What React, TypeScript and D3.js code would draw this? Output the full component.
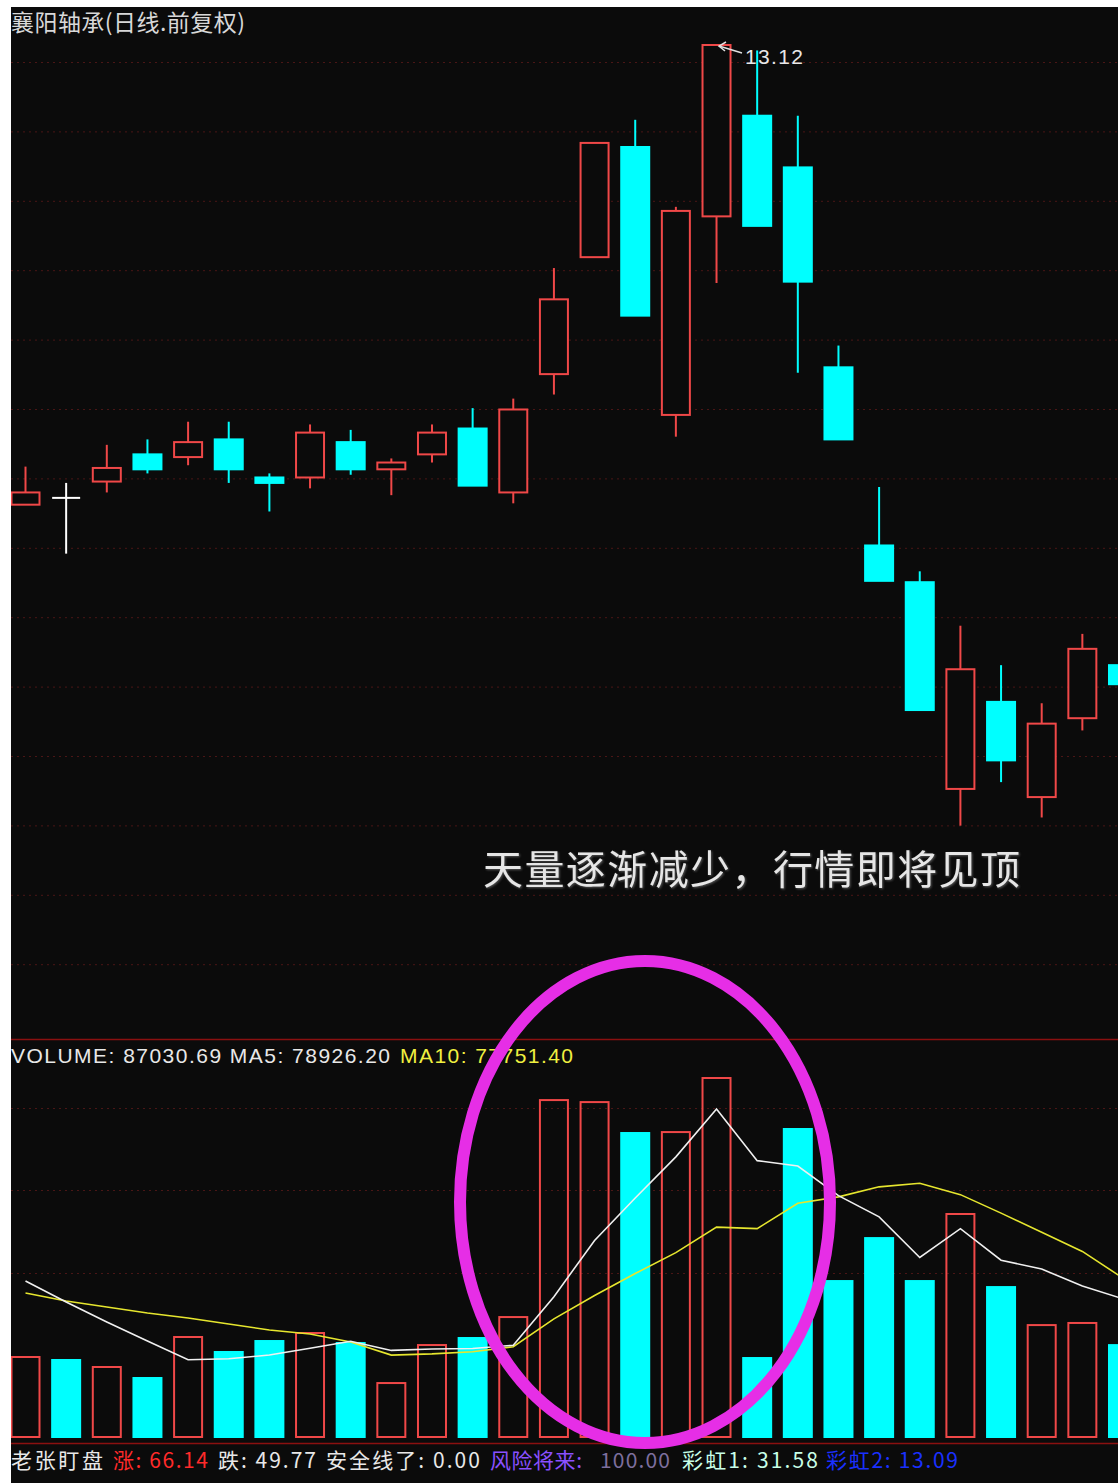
import React from 'react';
import * as d3 from 'd3';

// ---- data ----
const opens = [9.74, 9.79, 9.91, 10.11, 10.09, 10.22, 9.94, 9.94, 10.2, 10.0, 10.11, 10.3, 9.83, 10.7, 11.56, 12.37, 10.4, 11.86, 12.6, 12.22, 10.75, 9.44, 9.17, 7.65, 8.29, 7.59, 8.17, 8.56];
const closes = [9.83, 9.79, 10.01, 10.0, 10.2, 10.0, 9.9, 10.27, 10.0, 10.05, 10.27, 9.88, 10.44, 11.25, 12.4, 11.13, 11.9, 13.12, 11.79, 11.38, 10.22, 9.18, 8.23, 8.53, 7.86, 8.13, 8.68, 8.42];
const highs = [10.02, 9.9, 10.18, 10.22, 10.35, 10.35, 9.97, 10.33, 10.29, 10.08, 10.33, 10.45, 10.52, 11.48, 12.4, 12.57, 11.93, 13.12, 13.08, 12.6, 10.91, 9.87, 9.25, 8.85, 8.56, 8.28, 8.79, 8.56];
const lows = [9.74, 9.38, 9.83, 9.97, 10.03, 9.9, 9.69, 9.86, 9.96, 9.81, 10.05, 9.88, 9.75, 10.55, 11.56, 11.13, 10.24, 11.37, 11.79, 10.71, 10.22, 9.18, 8.23, 7.38, 7.7, 7.44, 8.08, 8.42];
const volumes = [75760, 72920, 66290, 55870, 94700, 80500, 90900, 98500, 89000, 51100, 87100, 93750, 113600, 319100, 317200, 287900, 288800, 340000, 74800, 291700, 147700, 188400, 147700, 211200, 142000, 106000, 108000, 87030.69];
const ma5 = [147700, 127850, 108900, 90900, 73108, 74056, 77652, 84094, 90720, 82000, 83320, 83890, 86910, 132930, 186150, 226310, 265320, 310600, 261740, 256640, 228600, 208520, 170060, 197340, 167400, 159060, 142980, 130846];
const ma10 = [136370, 128790, 123110, 117430, 112690, 107010, 101330, 97540, 89970, 77554, 78688, 80771, 85502, 111825, 134075, 154815, 174605, 198755, 197335, 221395, 227455, 236920, 240330, 229540, 212020, 193830, 175750, 150453];
const highLabel = '13.12';
const titleText = '襄阳轴承(日线.前复权)';
const noteText = '天量逐渐减少，行情即将见顶';
const volHeader = { volume: '87030.69', ma5: '78926.20', ma10: '77751.40' };
const footer = [
  { label: '老张盯盘', color: '#e8e8e8', x: 11, w: 92 },
  { label: '涨: 66.14', color: '#ff2a2a', x: 113, w: 95 },
  { label: '跌: 49.77', color: '#e8e8e8', x: 218, w: 98 },
  { label: '安全线了: 0.00', color: '#e8e8e8', x: 326, w: 154 },
  { label: '风险将来:', color: '#8a50ff', x: 490, w: 92 },
  { label: '100.00', color: '#7d6f9e', x: 600, w: 70 },
  { label: '彩虹1: 31.58', color: '#c8ffe8', x: 682, w: 136 },
  { label: '彩虹2: 13.09', color: '#1a30ff', x: 826, w: 132 },
];

const W = 1118;
const H = 1483;
const RED = '#f04848';
const CYAN = '#00ffff';
const BG = '#0b0b0b';
const GRID = '#4a1616';
const ASCII = '"Liberation Sans", Arial, sans-serif';
const CJK = '"Noto Sans CJK SC", "Liberation Sans", sans-serif';

export default function App() {
  const n = opens.length;
  const idx = d3.range(n);
  const x = d3.scaleLinear().domain([0, n - 1]).range([25.5, 1123]);
  const yP = d3.scaleLinear().domain([6, 13.12]).range([1013.32, 45]);
  const yV = d3.scaleLinear().domain([0, 376000]).range([1437, 1040]);
  const half = 14;

  const dir = idx.map((i) => {
    if (closes[i] > opens[i]) return 1;
    if (closes[i] < opens[i]) return -1;
    return 0;
  });
  const volUp = idx.map((i) => (dir[i] === 0 ? (i > 0 && closes[i] >= closes[i - 1] ? 1 : -1) : dir[i]));

  const line5 = d3.line<number>().x((d, i) => x(i)).y((d) => yV(d))(ma5) || '';
  const line10 = d3.line<number>().x((d, i) => x(i)).y((d) => yV(d))(ma10) || '';

  const topGrid = d3.range(14).map((k) => 62 + k * 69.4);
  const volGrid = [1108, 1190, 1273];

  return (
    <svg
      width={W}
      height={H}
      style={{ position: 'absolute', left: 0, top: 0, display: 'block' }}
      xmlns="http://www.w3.org/2000/svg"
    >
      <defs>
        <clipPath id="plot">
          <rect x={11} y={7} width={W - 11} height={H - 7} />
        </clipPath>
      </defs>
      <rect x={0} y={0} width={W} height={H} fill="#ffffff" />
      <rect x={11} y={7} width={W - 11} height={H - 7} fill={BG} />

      <g clipPath="url(#plot)">
        {/* grid */}
        {topGrid.map((gy, k) => (
          <line key={'g' + k} x1={11} x2={W} y1={gy + 0.5} y2={gy + 0.5} stroke={GRID} strokeWidth={1} strokeDasharray="2,4" />
        ))}
        {volGrid.map((gy, k) => (
          <line key={'vg' + k} x1={11} x2={W} y1={gy + 0.5} y2={gy + 0.5} stroke={GRID} strokeWidth={1} strokeDasharray="2,4" />
        ))}
        <line x1={11} x2={W} y1={1039.5} y2={1039.5} stroke="#8a1010" strokeWidth={1.5} />
        <line x1={11} x2={W} y1={1443.5} y2={1443.5} stroke="#8a1010" strokeWidth={1.5} />

        {/* candles */}
        {idx.map((i) => {
          const cx = x(i);
          const top = yP(Math.max(opens[i], closes[i]));
          const bot = yP(Math.min(opens[i], closes[i]));
          const hi = yP(highs[i]);
          const lo = yP(lows[i]);
          if (dir[i] === 0) {
            return (
              <g key={'c' + i} stroke="#ffffff" strokeWidth={2}>
                <line x1={cx} x2={cx} y1={hi} y2={lo} />
                <line x1={cx - half} x2={cx + half} y1={top} y2={top} />
              </g>
            );
          }
          if (dir[i] > 0) {
            return (
              <g key={'c' + i} stroke={RED} strokeWidth={2} fill="none">
                {hi < top && <line x1={cx} x2={cx} y1={hi} y2={top} />}
                {lo > bot && <line x1={cx} x2={cx} y1={bot} y2={lo} />}
                <rect x={cx - half} y={top} width={half * 2} height={Math.max(bot - top, 1)} fill={BG} />
              </g>
            );
          }
          return (
            <g key={'c' + i}>
              <line x1={cx} x2={cx} y1={hi} y2={lo} stroke={CYAN} strokeWidth={2} />
              <rect x={cx - half - 1} y={top - 1} width={half * 2 + 2} height={Math.max(bot - top, 1) + 2} fill={CYAN} />
            </g>
          );
        })}

        {/* high label */}
        <g stroke="#e0e0e0" strokeWidth={1.5} fill="none">
          <line x1={719} y1={46} x2={742} y2={53} />
          <polyline points="726,42 719,46 725,51" />
        </g>
        <text x={745} y={64} fill="#e8e8e8" fontFamily={ASCII} fontSize={21} textLength={58} lengthAdjust="spacing">
          {highLabel}
        </text>

        {/* volume bars */}
        {idx.map((i) => {
          const cx = x(i);
          const t = yV(volumes[i]);
          const b = yV(0);
          if (volUp[i] > 0) {
            return <rect key={'v' + i} x={cx - half} y={t} width={half * 2} height={b - t} fill="none" stroke={RED} strokeWidth={2} />;
          }
          return <rect key={'v' + i} x={cx - half - 1} y={t - 1} width={half * 2 + 2} height={b - t + 2} fill={CYAN} />;
        })}

        {/* MA lines */}
        <path d={line10} fill="none" stroke="#e6e62e" strokeWidth={1.6} />
        <path d={line5} fill="none" stroke="#f0f0f0" strokeWidth={1.6} />

        {/* texts */}
        <text x={11} y={31} fill="#d8d8d8" fontFamily={CJK} fontSize={23} textLength={234} lengthAdjust="spacing">
          {titleText}
        </text>
        <text x={483} y={884} fill="#e6e6e6" fontFamily={CJK} fontSize={40} textLength={537} lengthAdjust="spacing" style={{ filter: 'drop-shadow(1px 1px 1px #555)' }}>
          {noteText}
        </text>
        <text x={11} y={1063} fill="#e8e8e8" fontFamily={ASCII} fontSize={21} textLength={379} lengthAdjust="spacing">
          {`VOLUME: ${volHeader.volume} MA5: ${volHeader.ma5}`}
        </text>
        <text x={400} y={1063} fill="#f0f040" fontFamily={ASCII} fontSize={21} textLength={173} lengthAdjust="spacing">
          {`MA10: ${volHeader.ma10}`}
        </text>
        {footer.map((f, k) => (
          <text key={'f' + k} x={f.x} y={1468} fill={f.color} fontFamily={CJK} fontSize={21} textLength={f.w} lengthAdjust="spacing">
            {f.label}
          </text>
        ))}

        {/* highlight ellipse */}
        <ellipse cx={645} cy={1202} rx={185} ry={241} fill="none" stroke="#e62ee6" strokeWidth={12} />
      </g>
    </svg>
  );
}
